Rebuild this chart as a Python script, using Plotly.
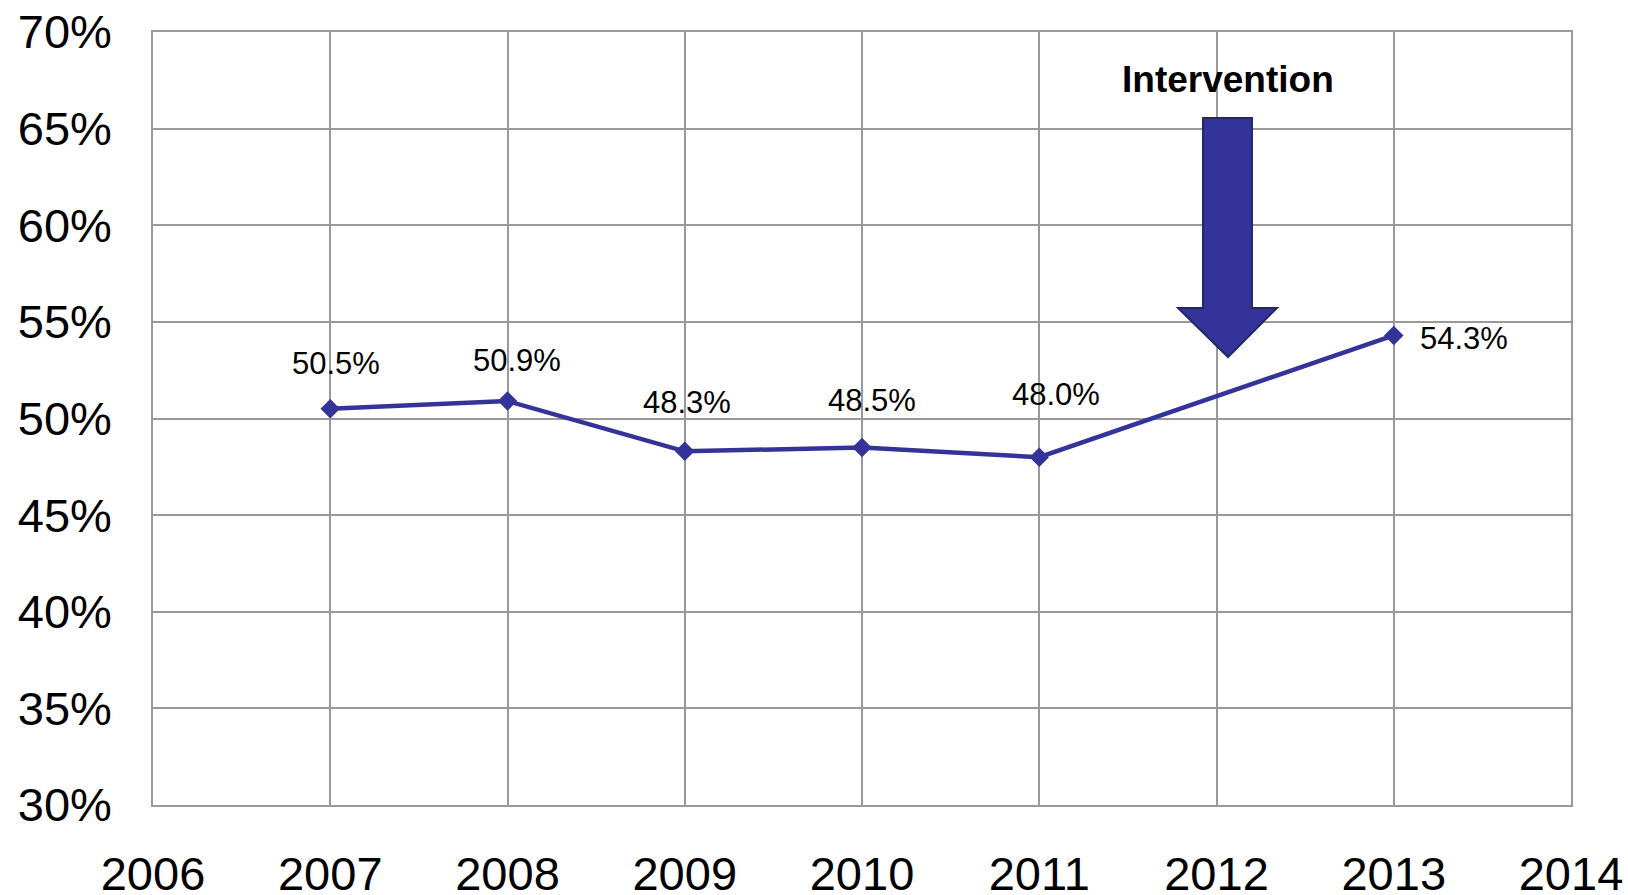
import plotly.graph_objects as go

# Share of cases per year
years = [2007, 2008, 2009, 2010, 2011, 2013]
values = [0.505, 0.509, 0.483, 0.485, 0.480, 0.543]
value_labels = ["50.5%", "50.9%", "48.3%", "48.5%", "48.0%", "54.3%"]

# Axis ticks
x_ticks = [2006, 2007, 2008, 2009, 2010, 2011, 2012, 2013, 2014]
y_ticks = [0.30, 0.35, 0.40, 0.45, 0.50, 0.55, 0.60, 0.65, 0.70]
y_tick_text = ["30%", "35%", "40%", "45%", "50%", "55%", "60%", "65%", "70%"]

# Pixel offsets of each value label relative to its point
label_dx = [6, 9, 2, 10, 17, 70]
label_dy = [45, 41, 49, 47, 63, -3]

LINE = "#333399"
GRID = "#999999"
FONT = "Liberation Sans, Arial, sans-serif"

fig = go.Figure()
fig.add_trace(go.Scatter(
    x=years, y=values, mode="lines+markers",
    line=dict(color=LINE, width=4.5),
    marker=dict(symbol="diamond", size=15, color=LINE),
    hoverinfo="skip", showlegend=False,
))

for x, y, t, dx, dy in zip(years, values, value_labels, label_dx, label_dy):
    fig.add_annotation(x=x, y=y, text=t, showarrow=False,
                       xshift=dx, yshift=dy,
                       font=dict(family=FONT, size=31, color="black"))

# Intervention marker: block arrow pointing down at 2012
ax_l, ax_r = 2011.924, 2012.200
hw_l, hw_r, tip_x = 2011.783, 2012.341, 2012.065
top_y, head_y, tip_y = 0.6555, 0.5572, 0.5318
path = (f"M {ax_l},{top_y} L {ax_r},{top_y} L {ax_r},{head_y} L {hw_r},{head_y} "
        f"L {tip_x},{tip_y} L {hw_l},{head_y} L {ax_l},{head_y} Z")
fig.add_shape(type="path", path=path, xref="x", yref="y",
              fillcolor=LINE, line=dict(color="#25256e", width=2), layer="above")
fig.add_annotation(x=tip_x, y=0.6755, text="<b>Intervention</b>", showarrow=False,
                   font=dict(family=FONT, size=37, color="black"))

fig.update_xaxes(
    range=[2006, 2014], tickmode="array", tickvals=x_ticks,
    ticktext=[str(v) for v in x_ticks],
    showgrid=True, gridcolor=GRID, gridwidth=1.5,
    showline=True, linecolor=GRID, linewidth=1.5, mirror=True,
    zeroline=False, ticks="", ticklabelstandoff=27, automargin=False,
    tickfont=dict(family=FONT, size=47, color="black"),
)
fig.update_yaxes(
    range=[0.30, 0.70], tickmode="array", tickvals=y_ticks, ticktext=y_tick_text,
    showgrid=True, gridcolor=GRID, gridwidth=1.5,
    showline=True, linecolor=GRID, linewidth=1.5, mirror=True,
    zeroline=False, ticks="", ticklabelstandoff=30, automargin=False,
    tickfont=dict(family=FONT, size=47, color="black"),
)

fig.update_layout(
    width=1628, height=895,
    margin=dict(l=153, r=57, t=32, b=90),
    plot_bgcolor="white", paper_bgcolor="white",
)

fig.write_html("out.html")
